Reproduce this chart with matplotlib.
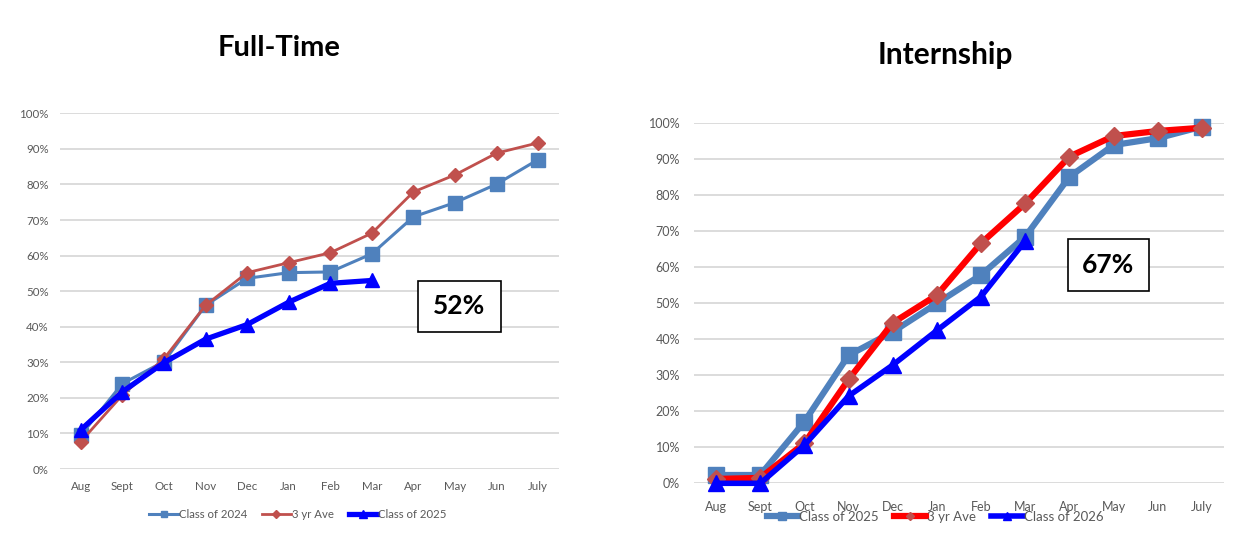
import matplotlib
matplotlib.use("Agg")
import matplotlib.pyplot as plt
from matplotlib.patches import Rectangle
from matplotlib.ticker import PercentFormatter

months = ["Aug", "Sept", "Oct", "Nov", "Dec", "Jan", "Feb", "Mar", "Apr", "May", "Jun", "July"]

# Full-Time
ft_class_2024 = [9.5, 24.0, 30.2, 46.0, 53.6, 55.2, 55.4, 60.5, 70.9, 74.9, 80.1, 87.0]
ft_3yr_ave = [7.7, 20.8, 31.0, 46.0, 55.2, 58.0, 60.8, 66.3, 77.9, 82.7, 88.8, 91.7]
ft_class_2025 = [11.0, 21.7, 29.9, 36.5, 40.6, 46.9, 52.2, 53.0]
ft_label = "52%"

# Internship
in_class_2025 = [2.3, 2.3, 17.1, 35.5, 42.0, 49.9, 57.8, 68.4, 85.0, 93.8, 95.7, 98.9]
in_3yr_ave = [1.2, 1.5, 11.1, 28.8, 44.5, 52.2, 66.6, 77.6, 90.6, 96.3, 97.7, 98.6]
in_class_2026 = [0.0, 0.0, 10.6, 24.2, 32.8, 42.4, 51.8, 67.2]
in_label = "67%"

W, H = 1253, 535
fig = plt.figure(figsize=(W / 100, H / 100), dpi=100)
fig.patch.set_facecolor("white")

FONT = ["Lato", "DejaVu Sans"]
GRAY = "#595959"
STEEL = "#4F81BD"
BRICK = "#C0504D"
BLUE = "#0000FF"
RED = "#FF0000"


def px_axes(x0, y0, x1, y1):
    return fig.add_axes([x0 / W, (H - y1) / H, (x1 - x0) / W, (y1 - y0) / H])


def style_axes(ax, tick_fs, ypad, xpad):
    ax.set_xlim(-0.5, len(months) - 0.5)
    ax.set_ylim(0, 100)
    ax.set_yticks(range(0, 101, 10))
    ax.yaxis.set_major_formatter(PercentFormatter(decimals=0))
    ax.set_xticks(range(len(months)))
    ax.set_xticklabels(months)
    for s in ax.spines.values():
        s.set_visible(False)
    ax.grid(axis="y", color="#D9D9D9", lw=1.3)
    ax.set_axisbelow(True)
    ax.tick_params(axis="both", length=0, colors=GRAY, labelsize=tick_fs)
    ax.tick_params(axis="y", pad=ypad)
    ax.tick_params(axis="x", pad=xpad)
    for lab in ax.get_xticklabels() + ax.get_yticklabels():
        lab.set_family(FONT)


def value_box(x0, y0, x1, y1, text, fs):
    fig.add_artist(Rectangle((x0 / W, (H - y1) / H), (x1 - x0) / W, (y1 - y0) / H,
                             transform=fig.transFigure, facecolor="white",
                             edgecolor="black", lw=1.2, zorder=5))
    fig.text((x0 + x1) / 2 / W, (H - (y0 + y1) / 2) / H, text, ha="center", va="center",
             fontsize=fs, fontweight="bold", family=FONT, color="black", zorder=6)


# ---------- Full-Time ----------
ax1 = px_axes(60, 113.3, 559, 469)
style_axes(ax1, 8.3, 8, 9)
x = list(range(len(months)))
l1, = ax1.plot(x, ft_class_2024, color=STEEL, lw=2.2, marker="s", ms=10,
               label="Class of 2024", clip_on=False, zorder=3)
l2, = ax1.plot(x, ft_3yr_ave, color=BRICK, lw=2.0, marker="D", ms=7.5,
               label="3 yr Ave", clip_on=False, zorder=4)
l3, = ax1.plot(x[:len(ft_class_2025)], ft_class_2025, color=BLUE, lw=3.8, marker="^", ms=10.5,
               label="Class of 2025", clip_on=False, zorder=5)
fig.legend(handles=[l1, l2, l3], loc="center", bbox_to_anchor=(298 / W, 1 - 514 / H),
           ncol=3, frameon=False, prop={"family": FONT, "size": 8.2}, labelcolor=GRAY,
           handlelength=2.5, handletextpad=0.1, columnspacing=1.3, markerscale=0.5)
fig.text(279.5 / W, 1 - 48 / H, "Full-Time", ha="center", va="center",
         fontsize=21, fontweight="bold", family=FONT)
value_box(418, 281, 500.5, 331.5, ft_label, 19)

# ---------- Internship ----------
ax2 = px_axes(694, 122.7, 1224, 483.3)
style_axes(ax2, 9, 10, 13)
m1, = ax2.plot(x, in_class_2025, color=STEEL, lw=4.5, marker="s", ms=11,
               label="Class of 2025", clip_on=False, zorder=3)
m2, = ax2.plot(x, in_3yr_ave, color=RED, lw=4.5, marker="D", ms=9,
               markerfacecolor=BRICK, markeredgecolor=BRICK,
               label="3 yr Ave", clip_on=False, zorder=4)
m3, = ax2.plot(x[:len(in_class_2026)], in_class_2026, color=BLUE, lw=4.0, marker="^", ms=11,
               label="Class of 2026", clip_on=False, zorder=5)
fig.legend(handles=[m1, m2, m3], loc="center", bbox_to_anchor=(935 / W, 1 - 517 / H),
           ncol=3, frameon=False, prop={"family": FONT, "size": 9.5}, labelcolor=GRAY,
           handlelength=2.4, handletextpad=0.05, columnspacing=1.2, markerscale=0.5)
fig.text(945 / W, 1 - 55 / H, "Internship", ha="center", va="center",
         fontsize=21.5, fontweight="bold", family=FONT)
value_box(1067.5, 239, 1149, 291, in_label, 19)

fig.savefig("out.png", dpi=100, facecolor="white")
